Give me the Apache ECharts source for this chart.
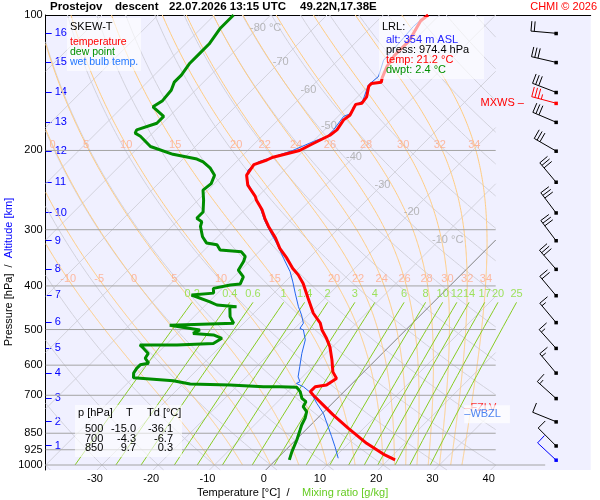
<!DOCTYPE html>
<html>
<head>
<meta charset="utf-8">
<title>Prostejov skew-T</title>
<script src="https://cdn.jsdelivr.net/npm/echarts@6.0.0/dist/echarts.min.js"></script>
<style>
  html, body { margin: 0; padding: 0; background: #fff; }
  #chart { width: 600px; height: 500px; }
</style>
</head>
<body>
<div id="chart"></div>
<script>
// ---- sounding ----
const tempP = [974, 950, 895, 829, 774, 736, 699, 687, 670, 664, 642, 621, 584, 546, 523, 501, 484, 460, 426, 395,
    378, 366, 347, 330, 313, 295, 283, 271, 258, 253, 239, 227, 215, 210, 207, 200, 193, 185, 180, 171,
    167, 158, 157, 152, 144, 142, 141, 138, 130, 123, 114, 103, 100];
const tempT = [21.2, 18.5, 13.2, 7.3, 2.2, -1.3, -4.9, -6.0, -6.0, -4.3, -3.7, -5.5, -7.8, -10.5, -12.6, -14.9, -16.4, -19.4, -23.0, -26.5,
    -28.9, -31.0, -33.9, -36.9, -39.5, -42.8, -44.9, -46.9, -49.6, -50.5, -53.8, -55.8, -56.4, -54.9, -54.3, -50.8, -49.6, -48.1, -47.8, -48.4,
    -48.1, -49.0, -48.1, -48.4, -49.9, -49.9, -48.4, -49.0, -50.2, -50.8, -50.8, -52.3, -52.0];

const dewP = [974, 934, 880, 836, 815, 787, 761, 742, 723, 711, 687, 672, 670, 670, 664, 661, 650, 640, 625, 610,
    599, 594, 579, 565, 550, 541, 541, 537, 523, 514, 510, 501, 489, 484, 468, 445, 445, 441, 434, 419,
    415, 405, 398, 396, 382, 369, 353, 344, 336, 333, 324, 321, 311, 295, 288, 283, 274, 258, 245, 237,
    227, 219, 212, 209, 204, 196, 186, 183, 180, 174, 168, 160, 155, 147, 141, 136, 128, 122, 116, 107, 100];
const dewT = [2.4, 1.4, 0.2, -1.0, -1.6, -2.2, -3.1, -4.6, -5.0, -6.3, -7.8, -9.2, -12.3, -15.2, -21.5, -28.7, -32.3, -39.9, -40.7, -41.0,
    -41.0, -39.8, -41.3, -41.6, -43.4, -44.6, -38.0, -31.8, -31.2, -33.3, -37.2, -36.6, -42.8, -31.8, -33.6, -35.4, -34.2, -38.0, -39.8, -44.3,
    -40.7, -41.6, -39.2, -37.6, -38.3, -40.4, -41.0, -41.6, -43.1, -47.2, -48.7, -50.9, -52.7, -54.9, -55.5, -57.0, -57.0, -59.0, -60.9, -60.6,
    -61.5, -63.5, -65.9, -67.5, -72.6, -78.0, -81.6, -83.1, -83.4, -81.0, -81.0, -84.6, -84.0, -84.3, -85.2, -85.2, -85.8, -85.8, -85.8, -86.6, -86.6];

const wetP = [966, 911, 865, 822, 768, 729, 693, 670, 659, 653, 637, 605, 565, 527, 501, 497, 484, 464, 445, 415,
    392, 372, 347, 322, 303, 286, 267, 251, 233, 221, 212, 200, 191, 186, 180, 168, 165, 160, 155, 143,
    137, 126, 115, 106, 100];
const wetT = [10.8, 8.2, 5.8, 3.4, 0.2, -2.8, -5.5, -8.1, -9.9, -9.6, -10.8, -12.3, -14.3, -16.1, -18.2, -19.1, -19.4, -21.2, -23.2, -26.2,
    -28.6, -30.9, -34.5, -38.3, -41.6, -44.6, -47.8, -51.0, -54.9, -56.5, -56.1, -52.0, -49.9, -48.4, -48.4, -49.0, -48.1, -49.0, -48.4, -50.2,
    -49.9, -51.9, -52.2, -52.6, -52.3];

// wind: surface, 1..16 km and the max wind level (kind 2 = surface, 1 = MXWS)
const windP = [974.4, 906, 801, 711, 624, 550, 482, 420, 367, 317, 275, 235, 200.5, 173, 157, 148.5, 127.4, 109.8];
const windDir = [313, 315, 292, 312, 320, 318, 320, 320, 319, 323, 323, 320, 300, 293, 285, 291, 283, 275];
const windSpd = [10, 10, 10, 15, 15, 15, 15, 20, 30, 30, 30, 30, 30, 30, 35, 30, 30, 20];
const windKind = [2, 0, 0, 0, 0, 0, 0, 0, 0, 0, 0, 0, 0, 0, 1, 0, 0, 0];

// axes
const pressureTicks = [100, 200, 300, 400, 500, 600, 700, 850, 925, 1000];
const pressureLines = [200, 300, 400, 500, 600, 700, 850, 925, 1000];
const tempTicks = [-30, -20, -10, 0, 10, 20, 30, 40];
const altKm = [1, 2, 3, 4, 5, 6, 7, 8, 9, 10, 11, 12, 13, 14, 15, 16];
const altP = [906, 801, 711, 624, 550, 482, 420, 367, 317, 275, 235, 200.5, 173, 148.5, 127.4, 109.8];

// diagram reference lines
const isoLabelT = [-80, -70, -60, -50, -40, -30, -20, -10];
const isoLabelP = [107, 127, 147, 176.5, 207, 238.5, 274, 316];
const thetaW = [-10, -5, 0, 5, 10, 15, 20, 22, 24, 26, 28, 30, 32, 34];
const mixRatio = [0.2, 0.4, 0.6, 1, 1.4, 2, 3, 4, 6, 8, 10, 12, 14, 17, 20, 25];

// levels / tables
const lrlAlt = 354, lrlPress = 974.4, lrlTemp = 21.2, lrlDwpt = 2.4;
const fzlvP = 748, wbzlP = 771;
const tableP = [500, 700, 850];
const tableT = [-15.0, -4.3, 9.7];
const tableTd = [-36.1, -6.7, 0.3];

// ---- layout ----
const FONT = '"Liberation Sans", Arial, sans-serif';
const SKEW = 80;              // °C per decade of pressure (45°)
const X_MIN = -40, X_RIGHT = 40;
const PX_PER_DEG = 5.625, GRID_W = 545;
const X_MAX = X_MIN + GRID_W / PX_PER_DEG;
const Y_TOP = 2, Y_BOTTOM = 3 + 5 / 450;
const BARB_X = 50.7;          // wind column, axis units
const LEVEL_X = 34.5;         // FZLV / WBZL markers
const P1000_END = 48.8;       // 1000 hPa line runs a bit further right
const MIX_TOP = 435;
const MOIST_LABEL_P = [194.3, 386.8];

function xy(t, p) {
    return [t + SKEW * Math.log10(1000 / p), Math.log10(p)];
}
function profile(ps, ts) {
    return ps.map((p, i) => xy(ts[i], p));
}

// cut a polyline to lo <= X <= hi
function clipX(pts, lo, hi) {
    let out = [], cur = null;
    const inside = q => q[0] >= lo && q[0] <= hi;
    const cross = (a, b, x) => {
        let k = (x - a[0]) / (b[0] - a[0]);
        return [x, a[1] + k * (b[1] - a[1])];
    };
    for (let i = 0; i < pts.length; i++) {
        let b = pts[i];
        if (i === 0) { if (inside(b)) cur = [b]; continue; }
        let a = pts[i - 1], ia = inside(a), ib = inside(b);
        if (ia && ib) cur.push(b);
        else if (ia && !ib) {
            cur.push(cross(a, b, b[0] > hi ? hi : lo));
            if (cur.length > 1) out.push(cur);
            cur = null;
        } else if (!ia && ib) {
            cur = [cross(a, b, a[0] > hi ? hi : lo), b];
        }
    }
    if (cur && cur.length > 1) out.push(cur);
    return out;
}

// isotherms
let isoSegs = [], zeroSegs = [];
for (let t = -120; t <= 40; t += 10) {
    let line = [[t + SKEW * (3 - Y_BOTTOM), Y_BOTTOM], [t + SKEW, Y_TOP]];
    let segs = clipX(line, X_MIN, X_RIGHT);
    if (t === 0) zeroSegs.push(...segs); else isoSegs.push(...segs);
}

// dry adiabats
let drySegs = [];
for (let th = -40; th <= 180; th += 10) {
    let pts = [];
    for (let k = 0; k <= 120; k++) {
        let y = Y_BOTTOM - (Y_BOTTOM - Y_TOP) * k / 120;
        let p = Math.pow(10, y);
        pts.push(xy((th + 273.15) * Math.pow(p / 1000, 0.2857) - 273.15, p));
    }
    drySegs.push(...clipX(pts, X_MIN, X_RIGHT));
}

// pseudo-adiabats
function lapse(p, T) {
    let es = 6.112 * Math.exp(17.67 * (T - 273.15) / (T - 29.65));
    let rs = 0.622 * es / (p - es);
    let num = 287.04 * T + 2.501e6 * rs;
    let den = 1005.7 + 2.501e6 * 2.501e6 * rs * 0.622 / (287.04 * T * T);
    return num / (den * p);
}
function moistAdiabat(tw) {
    let pts = [], p = 1000, T = tw + 273.15, h = -2;
    while (p >= 100) {
        pts.push([p, T - 273.15]);
        let k1 = lapse(p, T);
        let k2 = lapse(p + h / 2, T + h / 2 * k1);
        let k3 = lapse(p + h / 2, T + h / 2 * k2);
        let k4 = lapse(p + h, T + h * k3);
        T += h / 6 * (k1 + 2 * k2 + 2 * k3 + k4);
        p += h;
    }
    return pts;
}
let moistSegs = [], moistLabels = [];
thetaW.forEach(tw => {
    let curve = moistAdiabat(tw);
    moistSegs.push(...clipX(curve.map(q => xy(q[1], q[0])), X_MIN, X_RIGHT));
    MOIST_LABEL_P.forEach(pl => {
        for (let i = 0; i < curve.length - 1; i++) {
            if (curve[i][0] >= pl && curve[i + 1][0] <= pl) {
                let k = (curve[i][0] - pl) / (curve[i][0] - curve[i + 1][0]);
                let t = curve[i][1] + k * (curve[i + 1][1] - curve[i][1]);
                let v = xy(t, pl);
                if (v[0] >= X_MIN + 0.3 && v[0] <= X_RIGHT) moistLabels.push({ name: String(tw), value: v });
                break;
            }
        }
    });
});

// mixing ratio lines
function dewpointOf(w, p) {
    let e = w * p / (622 + w);
    let l = Math.log(e / 6.112);
    return 243.5 * l / (17.67 - l);
}
let mixSegs = [], mixLabels = [];
mixRatio.forEach(w => {
    let pts = [];
    for (let k = 0; k <= 20; k++) {
        let p = 1000 * Math.pow(MIX_TOP / 1000, k / 20);
        pts.push(xy(dewpointOf(w, p), p));
    }
    mixSegs.push(pts);
    mixLabels.push({ name: String(w), value: xy(dewpointOf(w, MIX_TOP), MIX_TOP) });
});

// pressure levels
let presSegs = pressureLines.map(p => [[X_MIN, Math.log10(p)], [p === 1000 ? P1000_END : X_RIGHT, Math.log10(p)]]);

function linesSeries(segs, color, z) {
    return {
        type: 'lines', coordinateSystem: 'cartesian2d', polyline: true, silent: true, z: z,
        data: segs.map(c => ({ coords: c })),
        lineStyle: { color: color, width: 1, opacity: 1 }
    };
}
function labelSeries(data, color, label, z) {
    return {
        type: 'scatter', symbol: 'circle', symbolSize: 1, silent: true, z: z || 6,
        itemStyle: { color: 'rgba(0,0,0,0)' },
        labelLayout: { hideOverlap: false },
        data: data,
        label: Object.assign({ show: true, color: color, fontSize: 11, fontFamily: FONT, formatter: p => p.name }, label)
    };
}

// wind barbs
function renderBarb(params, api) {
    let c = api.coord([api.value(0), api.value(1)]);
    let spd = api.value(2), dir = api.value(3) * Math.PI / 180, kind = api.value(4);
    let col = kind === 1 ? '#ff0000' : (kind === 2 ? '#0000ff' : '#000000');
    let ux = Math.sin(dir), uy = -Math.cos(dir);
    let bx = -uy, by = ux;
    let L = 25, F = 10, S = 3.3;
    let tip = [c[0] + ux * L, c[1] + uy * L];
    let st = { stroke: col, lineWidth: 1 };
    let children = [{ type: 'line', shape: { x1: c[0], y1: c[1], x2: tip[0], y2: tip[1] }, style: st }];
    let full = Math.floor(spd / 10), half = spd % 10 >= 5, pos = 0;
    for (let i = 0; i < full; i++, pos++) {
        let s = [tip[0] - ux * pos * S, tip[1] - uy * pos * S];
        children.push({ type: 'line', shape: { x1: s[0], y1: s[1], x2: s[0] + bx * F, y2: s[1] + by * F }, style: st });
    }
    if (half) {
        if (pos === 0) pos = 1;
        let s = [tip[0] - ux * pos * S, tip[1] - uy * pos * S];
        children.push({ type: 'line', shape: { x1: s[0], y1: s[1], x2: s[0] + bx * F / 2, y2: s[1] + by * F / 2 }, style: st });
    }
    children.push({ type: 'rect', shape: { x: c[0] - 1.5, y: c[1] - 1.5, width: 3.5, height: 3.5 }, style: { fill: col } });
    if (kind === 1) {
        children.push({ type: 'text', x: c[0] - 32, y: c[1], style: { text: 'MXWS –', fill: col, font: '11px ' + FONT, align: 'right', verticalAlign: 'middle' } });
    }
    return { type: 'group', children: children };
}

function txt(x, y, text, color, font, align) {
    return {
        type: 'text', x: x, y: y, z: 101, silent: true,
        style: { text: text, fill: color, font: font || ('11px ' + FONT), align: align || 'left', verticalAlign: 'middle' }
    };
}
function box(x, y, w, h) {
    return { type: 'rect', z: 100, silent: true, shape: { x: x, y: y, width: w, height: h }, style: { fill: 'rgba(255,255,255,0.62)' } };
}

let graphics = [
    txt(50, 7, 'Prostejov', '#000', 'bold 11.5px ' + FONT),
    txt(115, 7, 'descent', '#000', 'bold 11.5px ' + FONT),
    txt(169, 7, '22.07.2026 13:15 UTC', '#000', 'bold 11.5px ' + FONT),
    txt(300, 7, '49.22N,17.38E', '#000', 'bold 11.5px ' + FONT),
    txt(597, 7, 'CHMI © 2026', '#ff0000', '11px ' + FONT, 'right'),
    // legend
    box(67, 18, 74, 53),
    txt(70, 27, 'SKEW-T', '#000'),
    txt(70, 42, 'temperature', '#ff0000', '10.5px ' + FONT),
    txt(70, 52, 'dew point', '#009000', '10.5px ' + FONT),
    txt(70, 62, 'wet bulb temp.', '#2277ff', '10.5px ' + FONT),
    // lowest level
    box(379, 17, 105, 62),
    txt(382, 27, 'LRL:', '#000'),
    txt(386, 40, 'alt: ' + lrlAlt + ' m ASL', '#2222ff'),
    txt(386, 50, 'press: ' + lrlPress.toFixed(1) + ' hPa', '#000'),
    txt(386, 60, 'temp: ' + lrlTemp.toFixed(1) + ' °C', '#ff0000'),
    txt(386, 70, 'dwpt: ' + lrlDwpt.toFixed(1) + ' °C', '#009000'),
    // table
    box(75, 405, 107, 52),
    txt(78, 413, 'p [hPa]', '#000'),
    txt(126, 413, 'T', '#000'),
    txt(147, 413, 'Td [°C]', '#000'),
    // axis titles
    txt(197, 493, 'Temperature [°C]  /', '#000'),
    txt(302, 493, 'Mixing ratio [g/kg]', '#66cc22'),
    {
        type: 'text', x: 9, y: 272, rotation: Math.PI / 2, z: 101, silent: true,
        style: {
            text: '{a|Pressure [hPa]  /  }{b|Altitude [km]}', align: 'center', verticalAlign: 'middle',
            font: '11px ' + FONT,
            rich: { a: { fill: '#000', font: '11px ' + FONT }, b: { fill: '#0000ff', font: '11px ' + FONT } }
        }
    }
];
tableP.forEach((p, i) => {
    let y = 428.7 + i * 9.8;
    graphics.push(txt(85, y, String(p), '#000'));
    graphics.push(txt(136, y, tableT[i].toFixed(1), '#000', null, 'right'));
    graphics.push(txt(173, y, tableTd[i].toFixed(1), '#000', null, 'right'));
});

let myChart = echarts.init(document.getElementById('chart'));
myChart.setOption({
    animation: false,
    textStyle: { fontFamily: FONT },
    grid: { left: 45.7, top: 15, width: GRID_W, height: 455, containLabel: false, outerBoundsMode: 'none', backgroundColor: '#f0f0ff', show: true, borderWidth: 0 },
    xAxis: [{
        type: 'value', min: X_MIN, max: X_MAX, position: 'bottom',
        axisLine: { show: false, onZero: false }, axisTick: { show: false }, splitLine: { show: false },
        axisLabel: { customValues: tempTicks, color: '#000', fontSize: 11, margin: 3, padding: [0, 14, 0, 0] }
    }, {
        type: 'value', min: X_MIN, max: X_MAX, position: 'top',
        axisLine: { show: true, onZero: false, lineStyle: { color: '#000', width: 1 } },
        axisTick: { show: false }, axisLabel: { show: false }, splitLine: { show: false }
    }],
    yAxis: [{
        type: 'value', inverse: true, min: Y_TOP, max: Y_BOTTOM, position: 'left',
        axisLine: { show: true, onZero: false, lineStyle: { color: '#000', width: 1 } },
        axisTick: { show: false }, splitLine: { show: false },
        axisLabel: {
            customValues: pressureTicks.map(p => Math.log10(p)), color: '#000', fontSize: 11, margin: 3,
            formatter: v => String(Math.round(Math.pow(10, v)))
        }
    }, {
        type: 'value', inverse: true, min: Y_TOP, max: Y_BOTTOM, position: 'left', offset: 0,
        axisLine: { show: false, onZero: false }, splitLine: { show: false },
        axisTick: { show: true, inside: true, length: 6, customValues: altP.map(p => Math.log10(p)), lineStyle: { color: '#0000ff' } },
        axisLabel: {
            inside: true, margin: 9, color: '#0000ff', fontSize: 11,
            customValues: altP.map(p => Math.log10(p)),
            formatter: v => {
                let i = altP.findIndex(p => Math.abs(Math.log10(p) - v) < 1e-6);
                return i >= 0 ? String(altKm[i]) : '';
            }
        }
    }],
    graphic: graphics,
    series: [
        linesSeries(drySegs, '#d2d2dc', 1),
        linesSeries(isoSegs, '#d2d2dc', 1),
        linesSeries(zeroSegs, '#808080', 2),
        linesSeries(moistSegs, '#ffcc80', 3),
        linesSeries(mixSegs, '#88cc22', 4),
        linesSeries(presSegs, '#a4a4a4', 5),
        labelSeries(isoLabelT.map((t, i) => ({ name: (i === 0 || i === isoLabelT.length - 1) ? t + ' °C' : String(t), value: xy(t, isoLabelP[i]) })),
            '#a8a8a8', { position: [-7, 0.5], align: 'left', verticalAlign: 'middle' }),
        labelSeries(moistLabels, '#ffaa88', { position: 'inside' }),
        labelSeries(mixLabels, '#88dd33', { position: 'top', distance: 2 }),
        {
            type: 'line', showSymbol: false, symbol: 'none', silent: true, z: 10,
            data: profile(wetP, wetT), lineStyle: { color: '#2266ee', width: 1 }
        },
        {
            type: 'line', showSymbol: false, symbol: 'none', silent: true, z: 11,
            data: profile(dewP, dewT), lineStyle: { color: '#008c00', width: 3 }
        },
        {
            type: 'line', showSymbol: false, symbol: 'none', silent: true, z: 12,
            data: profile(tempP, tempT), lineStyle: { color: '#ff0000', width: 3 }
        },
        {
            type: 'custom', renderItem: renderBarb, silent: true, z: 20, clip: false,
            data: windP.map((p, i) => [BARB_X, Math.log10(p), windSpd[i], windDir[i], windKind[i]])
        },
        labelSeries([{ name: '–FZLV', value: [LEVEL_X, Math.log10(fzlvP)] }], '#ff0000',
            { position: [0, 0.5], align: 'left', verticalAlign: 'middle' }, 30),
        labelSeries([{ name: '–WBZL', value: [LEVEL_X, Math.log10(wbzlP)] }], '#2266ee',
            { position: [0, 0.5], align: 'left', verticalAlign: 'middle', backgroundColor: 'rgba(255,255,255,0.9)', padding: [6, 9, 1, 0] }, 32)
    ]
});
</script>
</body>
</html>
